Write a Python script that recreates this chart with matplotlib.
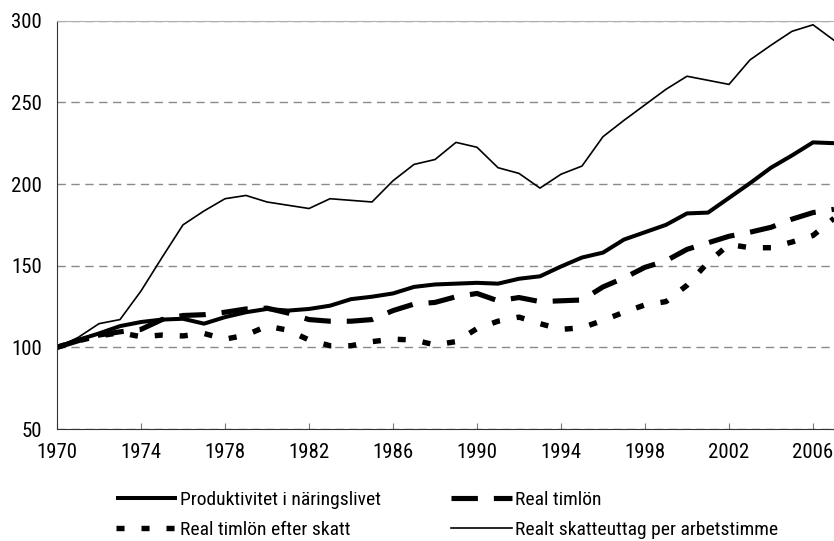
import numpy as np
import matplotlib
matplotlib.use('Agg')
import matplotlib.pyplot as plt
from matplotlib import font_manager

# data (index 1970 = 100)
years = np.arange(1970, 2008)

produktivitet = [100, 104.5, 108.5, 113, 115.5, 117, 117.5, 114.5, 118.5, 121.5,
                 123.5, 122.5, 123.5, 125.5, 129.5, 131, 133, 137, 138.5, 139,
                 139.5, 139, 142, 143.5, 149.5, 155, 158, 166, 170.5, 175,
                 182, 182.5, 191.5, 200.5, 210, 217.5, 225.5, 225]

real_timlon = [100, 104, 107.5, 109.5, 111, 117, 119.5, 120, 121.5, 123.5,
               124, 121, 117, 116, 116, 117, 122.5, 126.5, 127.5, 131,
               133, 128.5, 130.5, 128, 128.5, 129, 137, 142.5, 149, 153,
               160, 164, 168, 170.5, 173.5, 178.5, 182.5, 184.5]

timlon_efter_skatt = [100, 104, 107, 109, 106.5, 107.5, 107, 108.5, 105, 107.5,
                      113, 110.5, 104.5, 101, 101, 103.5, 105, 104.5, 101.5, 103.5,
                      111.5, 116, 118.5, 114.5, 111, 112, 116.5, 121.5, 126, 128,
                      138, 152, 163, 161, 161, 164.5, 168.5, 179]

skatteuttag = [100, 106, 114.5, 117, 134.5, 155, 175, 183.5, 191, 193,
               189, 187, 185, 191, 190, 189, 202, 212, 215, 225.5,
               222.5, 210, 206.5, 197.5, 206, 211, 229, 239, 248.5, 258,
               266, 263.5, 261, 276, 285, 293.5, 297.5, 288]

labels = ['Produktivitet i näringslivet', 'Real timlön',
          'Real timlön efter skatt', 'Realt skatteuttag per arbetstimme']

# pick a narrow font if one is installed
names = set(f.name for f in font_manager.fontManager.ttflist)
fam = [n for n in ['Liberation Sans Narrow', 'Roboto Condensed', 'DejaVu Sans Condensed',
                   'Open Sans Condensed'] if n in names]
plt.rcParams['font.family'] = fam + ['DejaVu Sans']
plt.rcParams['font.stretch'] = 'condensed'
plt.rcParams['lines.scale_dashes'] = False

fs = 15

fig = plt.figure(figsize=(8.34, 5.41), dpi=100)
ax = fig.add_axes([57 / 834, 1 - 429 / 541, 777 / 834, (429 - 20.7) / 541])

l1, = ax.plot(years, produktivitet, color='black', lw=2.9,
              solid_joinstyle='round', solid_capstyle='butt')
l2, = ax.plot(years, real_timlon, color='black', lw=3.7,
              dashes=(19, 11.5), dash_capstyle='butt')
l3, = ax.plot(years, timlon_efter_skatt, color='black', lw=3.9,
              dashes=(5.8, 12.2), dash_capstyle='butt')
l4, = ax.plot(years, skatteuttag, color='black', lw=1.2)

ax.set_xlim(1970, 2007)
ax.set_ylim(50, 300)
ax.set_xticks(np.arange(1970, 2007, 4))
ax.set_yticks(np.arange(50, 301, 50))

ax.yaxis.grid(True, color='#8a8a8a', lw=1.0, dashes=(6, 4))
ax.set_axisbelow(True)

ax.spines['right'].set_visible(False)
ax.spines['top'].set_color('#b0b0b0')
ax.spines['top'].set_linewidth(0.8)
ax.spines['left'].set_color('#333333')
ax.spines['bottom'].set_color('#333333')

ax.tick_params(axis='x', direction='in', length=4.5, color='#777777',
               labelsize=fs, pad=10)
ax.tick_params(axis='y', length=0, labelsize=fs, pad=11)

# row-major order like the reference
fig.legend([l1, l3, l2, l4], [labels[0], labels[2], labels[1], labels[3]],
           ncol=2, frameon=False,
           loc='upper left', bbox_to_anchor=(116 / 834, 1 - 491 / 541),
           borderaxespad=0, borderpad=0, fontsize=14,
           handlelength=3.14, handletextpad=0.15, columnspacing=3.6,
           labelspacing=0.6)

fig.savefig('out.png', dpi=100)
